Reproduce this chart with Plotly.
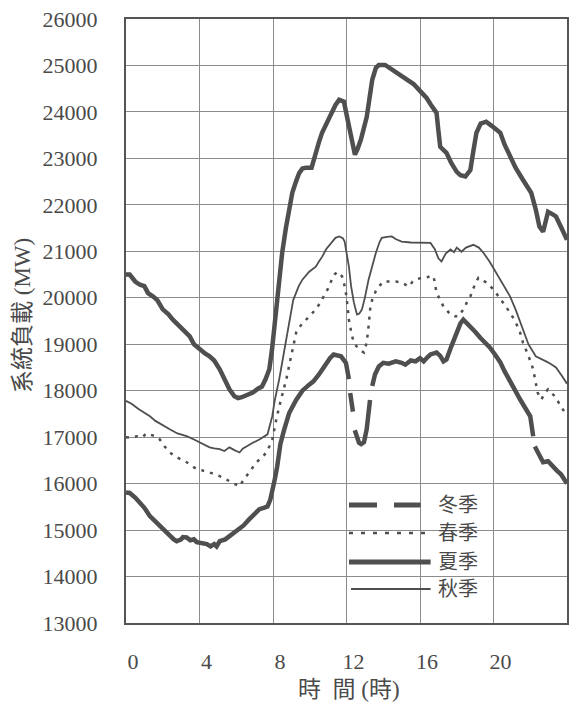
import plotly.graph_objects as go

# Daily system load curves by season (MW), read at irregular hour marks
summer_h = [0.0, 0.2, 0.5, 0.76, 1.0, 1.2, 1.46, 1.7, 2.0, 2.3, 2.55, 3.0, 3.47, 3.7, 4.0, 4.3,
            4.55, 4.8, 5.1, 5.4, 5.63, 5.9, 6.1, 6.3, 6.6, 6.9, 7.2, 7.4, 7.6, 7.8, 7.95, 8.07,
            8.2, 8.35, 8.5, 8.7, 8.9, 9.05, 9.25, 9.43, 9.6, 9.8, 10.1, 10.2, 10.33, 10.5, 10.67,
            10.9, 11.2, 11.4, 11.6, 11.86, 12.0, 12.13, 12.3, 12.46, 12.6, 12.78, 13.1, 13.25,
            13.4, 13.6, 13.76, 14.1, 14.4, 14.68, 15.0, 15.4, 15.65, 16.1, 16.36, 16.6, 16.9,
            17.0, 17.1, 17.44, 17.7, 18.0, 18.2, 18.47, 18.74, 18.9, 19.07, 19.3, 19.6, 19.9,
            20.37, 20.6, 20.9, 21.2, 21.6, 22.05, 22.3, 22.5, 22.7, 22.85, 22.97, 23.2, 23.4,
            23.7, 24.0]
summer_mw = [20500, 20500, 20350, 20280, 20250, 20100, 20030, 19950, 19750, 19650, 19530, 19350,
             19170, 19000, 18890, 18800, 18740, 18650, 18460, 18200, 18030, 17880, 17840, 17860,
             17920, 17960, 18050, 18090, 18250, 18460, 18900, 19380, 20000, 20500, 20970, 21500,
             22000, 22260, 22500, 22690, 22780, 22800, 22800, 22950, 23120, 23350, 23550, 23750,
             23980, 24150, 24260, 24220, 23950, 23680, 23350, 23080, 23200, 23400, 23890, 24300,
             24690, 24950, 25010, 25010, 24930, 24860, 24760, 24650, 24600, 24410, 24300, 24150,
             23980, 23600, 23250, 23120, 22900, 22710, 22640, 22610, 22750, 23150, 23550, 23750,
             23790, 23700, 23550, 23300, 23030, 22800, 22540, 22260, 21900, 21530, 21420, 21700,
             21850, 21800, 21750, 21500, 21250]

autumn_h = [0.0, 0.3, 0.7, 1.0, 1.3, 1.6, 2.0, 2.38, 2.8, 3.3, 3.7, 4.0, 4.3, 4.55, 4.8, 5.1,
            5.35, 5.63, 5.9, 6.18, 6.35, 6.55, 6.9, 7.26, 7.5, 7.7, 7.96, 8.1, 8.34, 8.72, 8.9,
            9.1, 9.4, 9.6, 9.97, 10.33, 10.5, 10.67, 10.9, 11.2, 11.4, 11.6, 11.8, 11.9, 12.0,
            12.13, 12.25, 12.4, 12.57, 12.7, 12.84, 13.0, 13.2, 13.4, 13.6, 13.8, 13.92, 14.2,
            14.46, 14.7, 15.0, 15.5, 16.1, 16.57, 16.8, 17.0, 17.17, 17.4, 17.66, 17.85, 18.0,
            18.26, 18.5, 18.9, 19.2, 19.45, 19.8, 20.15, 20.5, 20.9, 21.2, 21.6, 21.9, 22.3,
            22.7, 22.86, 23.1, 23.4, 23.7, 24.0]
autumn_mw = [17780, 17720, 17600, 17520, 17450, 17350, 17250, 17170, 17080, 17020, 16950, 16890,
             16830, 16780, 16760, 16740, 16700, 16780, 16720, 16670, 16750, 16800, 16880, 16950,
             17000, 17060, 17450, 17800, 18250, 19100, 19450, 19950, 20250, 20390, 20560, 20670,
             20780, 20880, 21050, 21210, 21290, 21320, 21280, 21210, 21000, 20670, 20250, 19900,
             19640, 19660, 19750, 20000, 20390, 20700, 20970, 21200, 21290, 21310, 21320, 21260,
             21210, 21190, 21190, 21180, 21050, 20850, 20780, 20950, 21040, 20980, 21080, 20990,
             21080, 21140, 21080, 20970, 20770, 20540, 20290, 20030, 19750, 19330, 19000, 18740,
             18670, 18630, 18580, 18500, 18330, 18150]

spring_h = [0.0, 0.3, 0.6, 0.9, 1.1, 1.3, 1.6, 1.84, 2.1, 2.38, 2.7, 3.0, 3.3, 3.6, 3.85, 4.1,
            4.4, 4.7, 5.1, 5.35, 5.63, 5.9, 6.18, 6.35, 6.55, 6.8, 7.1, 7.4, 7.64, 7.8, 7.96,
            8.18, 8.34, 8.72, 9.05, 9.26, 9.5, 9.8, 10.05, 10.33, 10.55, 10.78, 11.0, 11.2,
            11.35, 11.5, 11.76, 11.9, 12.0, 12.13, 12.3, 12.45, 12.68, 12.95, 13.1, 13.2, 13.3,
            13.4, 13.6, 13.76, 14.0, 14.4, 14.68, 15.0, 15.2, 15.4, 15.6, 15.76, 16.1, 16.36,
            16.55, 16.74, 16.9, 17.1, 17.28, 17.66, 17.9, 18.1, 18.36, 18.55, 18.74, 19.0,
            19.18, 19.4, 19.6, 20.0, 20.37, 20.6, 20.9, 21.2, 21.45, 21.6, 21.9, 22.16, 22.4,
            22.6, 22.8, 22.97, 23.15, 23.35, 23.67, 24.0]
spring_mw = [17000, 16990, 17020, 17000, 17080, 17060, 17020, 16950, 16800, 16670, 16580, 16520,
             16460, 16380, 16310, 16290, 16260, 16220, 16160, 16120, 16050, 16000, 15940, 16050,
             16160, 16300, 16460, 16560, 16670, 16800, 16950, 17380, 17660, 18240, 18820, 19250,
             19400, 19530, 19640, 19750, 19880, 20030, 20200, 20390, 20500, 20560, 20460, 20250,
             20030, 19530, 19170, 19000, 18890, 18820, 19040, 19380, 19800, 19960, 20150, 20240,
             20350, 20350, 20350, 20330, 20290, 20240, 20350, 20390, 20430, 20430, 20470, 20460,
             20110, 19950, 19810, 19640, 19600, 19600, 19750, 19900, 20030, 20300, 20430, 20380,
             20330, 20180, 19960, 19850, 19680, 19480, 19250, 19040, 18750, 18460, 17960, 17810,
             17950, 18030, 17950, 17880, 17660, 17460]

# None marks the breaks of the dashed winter curve
winter_h = [0.0, 0.2, 0.5, 0.76, 1.0, 1.3, 1.6, 1.84, 2.1, 2.38, 2.6, 2.76, 3.0, 3.1, 3.3, 3.5,
            3.7, 3.85, 4.1, 4.4, 4.6, 4.8, 4.93, 5.1, 5.4, 5.63, 5.9, 6.18, 6.4, 6.7, 7.0, 7.26,
            7.5, 7.7, 7.85, 7.96, 8.1, 8.23, 8.4, 8.6, 8.88, 9.26, 9.6, 9.97, 10.2, 10.5, 10.75,
            10.94, 11.1, 11.3, 11.5, 11.7, 11.97, 12.13, None, 12.2, 12.35, None, 12.45, 12.6,
            12.68, 12.8, 12.95, 13.1, 13.2, 13.28, None, 13.4, 13.55, 13.76, 14.0, 14.3, 14.68,
            15.0, 15.2, 15.5, 15.76, 16.0, 16.2, 16.4, 16.57, 16.9, 17.1, 17.28, 17.44, 17.7,
            18.0, 18.2, 18.36, 18.5, 18.74, 19.0, 19.28, 19.5, 19.8, 20.1, 20.37, 20.6, 20.9,
            21.2, 21.45, 21.7, 22.0, 22.16, None, 22.25, 22.4, 22.55, 22.7, 22.97, 23.24, 23.45,
            23.67, 24.0]
winter_mw = [15810, 15800, 15700, 15600, 15480, 15300, 15180, 15080, 14980, 14870, 14800, 14760,
             14800, 14850, 14840, 14780, 14800, 14740, 14720, 14700, 14650, 14700, 14650, 14760,
             14800, 14870, 14950, 15020, 15100, 15230, 15350, 15450, 15480, 15510, 15650, 15810,
             16100, 16370, 16850, 17150, 17520, 17800, 18000, 18130, 18200, 18350, 18500, 18600,
             18700, 18780, 18760, 18740, 18600, 18250, None, 17950, 17550, None, 17150, 16920,
             16880, 16850, 16890, 17170, 17600, 17800, None, 18100, 18350, 18520, 18600, 18580,
             18630, 18600, 18560, 18650, 18630, 18700, 18630, 18720, 18780, 18820, 18750, 18630,
             18670, 18950, 19250, 19450, 19530, 19480, 19380, 19270, 19140, 19050, 18930, 18770,
             18610, 18420, 18180, 17990, 17810, 17650, 17450, 17020, None, 16800, 16670, 16560,
             16460, 16480, 16350, 16280, 16200, 16000]

x_ticks = [0, 4, 8, 12, 16, 20]

INK = "#4f4f4f"
TEXT = "#4a4a4a"
NUM_FONT = "Liberation Serif"
CJK_FONT = "Liberation Serif, Noto Sans CJK TC"

fig = go.Figure()
fig.add_trace(go.Scatter(x=summer_h, y=summer_mw, mode="lines", name="夏季",
                         line=dict(color=INK, width=4.5)))
fig.add_trace(go.Scatter(x=autumn_h, y=autumn_mw, mode="lines", name="秋季",
                         line=dict(color=INK, width=1.8)))
fig.add_trace(go.Scatter(x=spring_h, y=spring_mw, mode="lines", name="春季",
                         line=dict(color=INK, width=2.5, dash="3px,6px")))
fig.add_trace(go.Scatter(x=winter_h, y=winter_mw, mode="lines", name="冬季",
                         connectgaps=False, line=dict(color=INK, width=4.5)))

# plot area geometry in pixels
L, T, W, H = 126, 19, 443, 604


def px(x):
    return (x - L) / W


def py(y):
    return (T + H - y) / H


shapes = [
    # white panel behind the key, hiding the grid there
    dict(type="rect", xref="paper", yref="paper", x0=px(293), x1=px(543), y0=py(600), y1=py(488),
         fillcolor="white", line=dict(width=0), layer="between"),
]
key_rows = [
    ("冬季", 505, dict(width=5, dash="28px,17px"), 350, 422),
    ("春季", 533, dict(width=2.5, dash="4px,8px"), 350, 428),
    ("夏季", 562, dict(width=5), 350, 432),
    ("秋季", 589, dict(width=2), 352, 432),
]
annotations = []
for name, yy, ln, xa, xb in key_rows:
    shapes.append(dict(type="line", xref="paper", yref="paper", x0=px(xa), x1=px(xb),
                       y0=py(yy), y1=py(yy), line=dict(color=INK, **ln), layer="above"))
    annotations.append(dict(text=name, xref="paper", yref="paper", x=px(437), y=py(yy),
                            xanchor="left", yanchor="middle", showarrow=False,
                            font=dict(size=20, color=TEXT, family=CJK_FONT)))

annotations.append(dict(text="時\u2002間 (時)", xref="paper", yref="paper", x=px(350), y=0,
                        xanchor="center", yanchor="top", yshift=-52, showarrow=False,
                        font=dict(size=23, color=TEXT, family=CJK_FONT)))
annotations.append(dict(text="系統負載 (MW)", xref="paper", yref="paper", x=0, y=py(316),
                        xanchor="center", yanchor="middle", xshift=-(L - 22), textangle=-90,
                        showarrow=False, font=dict(size=23, color=TEXT, family=CJK_FONT)))

fig.update_layout(
    width=571, height=704,
    margin=dict(l=L, r=571 - L - W, t=T, b=704 - T - H),
    plot_bgcolor="white", paper_bgcolor="white",
    showlegend=False,
    shapes=shapes, annotations=annotations,
)
fig.update_xaxes(range=[0, 24], tickvals=x_ticks,
                 showgrid=True, gridcolor="#8c8c8c", gridwidth=1, zeroline=False,
                 showline=True, mirror=True, linecolor="#555555", linewidth=2,
                 ticks="", ticklabelstandoff=18, ticklabelshift=7,
                 tickfont=dict(size=22, color=TEXT, family=NUM_FONT))
fig.update_yaxes(range=[13000, 26000], dtick=1000,
                 showgrid=True, gridcolor="#8c8c8c", gridwidth=1, zeroline=False,
                 showline=True, mirror=True, linecolor="#555555", linewidth=2,
                 ticks="", ticklabelstandoff=22, tickformat="d",
                 tickfont=dict(size=22, color=TEXT, family=NUM_FONT))

fig.write_html("out.html")
